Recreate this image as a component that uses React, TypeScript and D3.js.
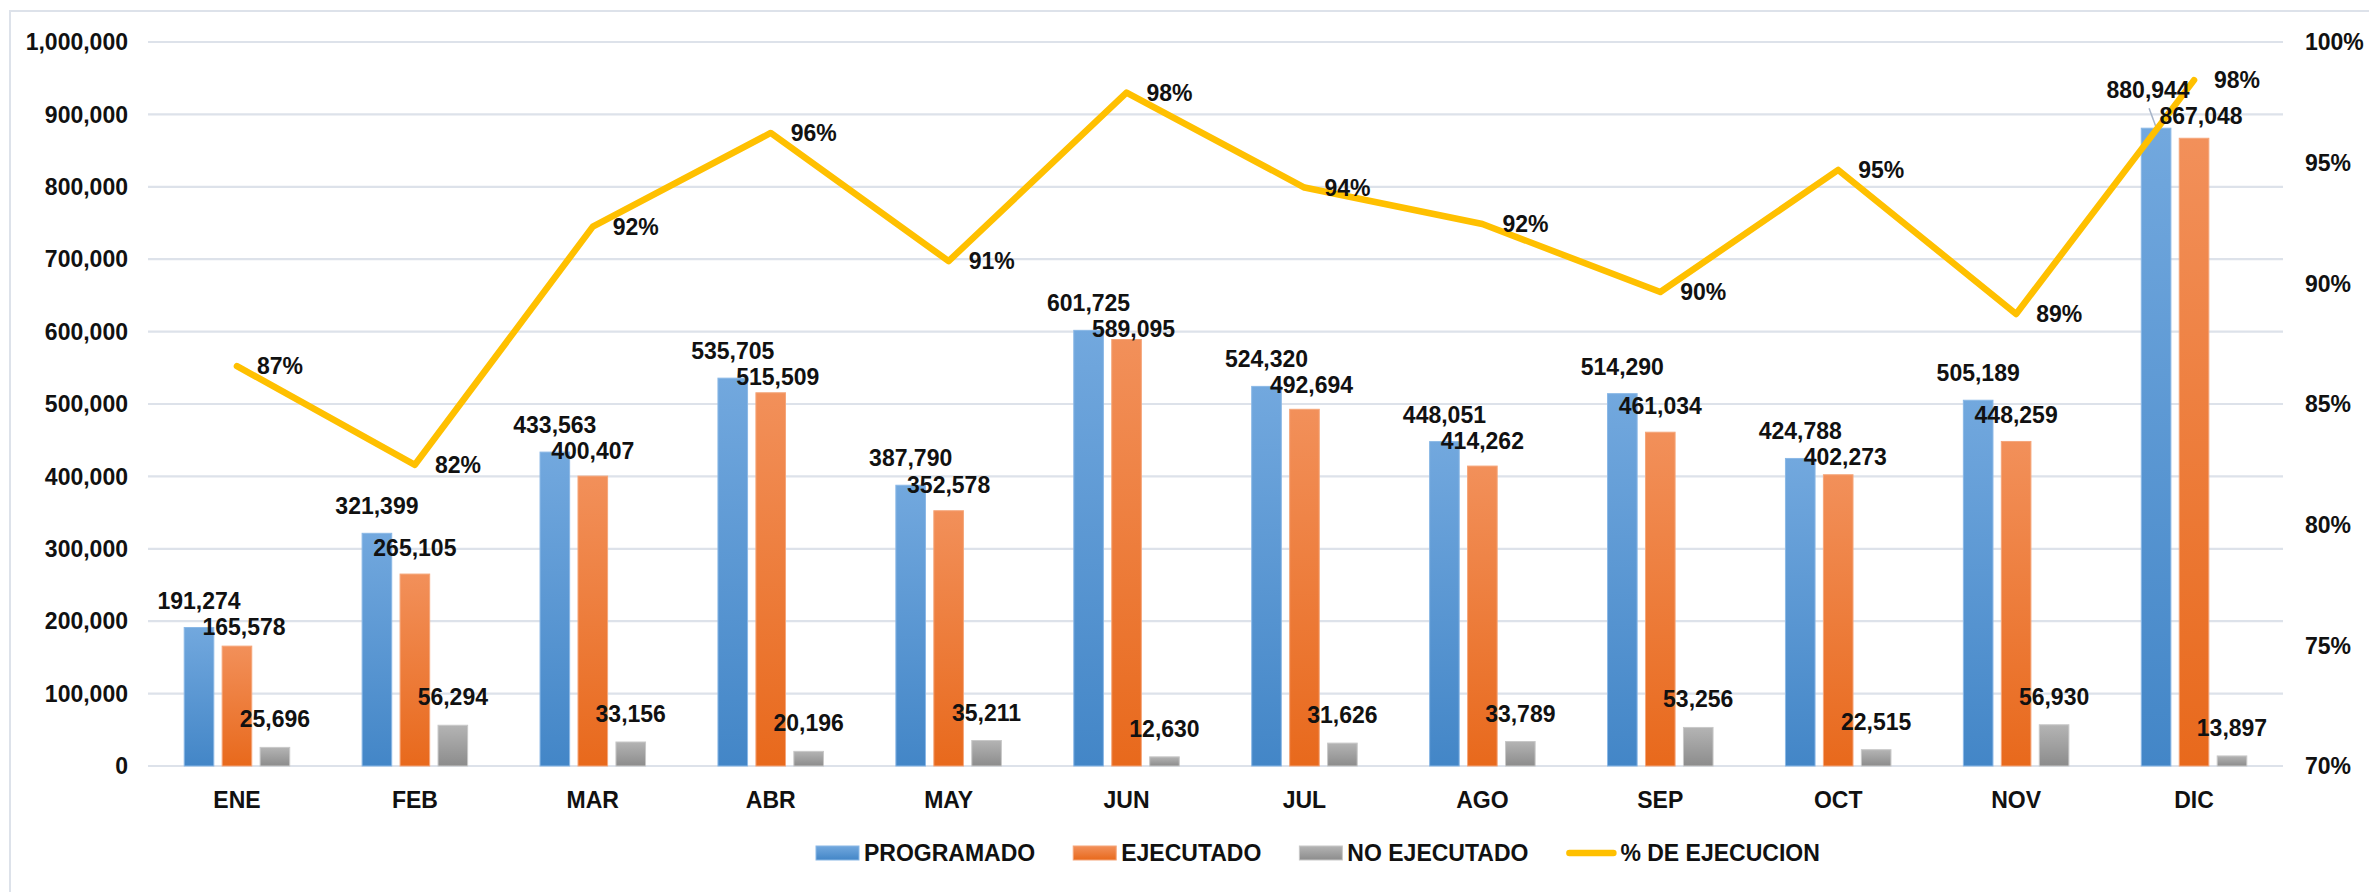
import React from 'react';
import * as d3 from 'd3';

// Monthly budget execution
const MONTHS = ['ENE', 'FEB', 'MAR', 'ABR', 'MAY', 'JUN', 'JUL', 'AGO', 'SEP', 'OCT', 'NOV', 'DIC'];
const PROGRAMADO = [191274, 321399, 433563, 535705, 387790, 601725, 524320, 448051, 514290, 424788, 505189, 880944];
const EJECUTADO = [165578, 265105, 400407, 515509, 352578, 589095, 492694, 414262, 461034, 402273, 448259, 867048];
const NO_EJECUTADO = [25696, 56294, 33156, 20196, 35211, 12630, 31626, 33789, 53256, 22515, 56930, 13897];
const PCT_EJECUCION = [0.8657, 0.8248, 0.9235, 0.9623, 0.9092, 0.979, 0.9397, 0.9246, 0.8964, 0.947, 0.8873, 0.9842];
const LEFT_TICKS = [0, 100000, 200000, 300000, 400000, 500000, 600000, 700000, 800000, 900000, 1000000];
const RIGHT_TICKS = [0.7, 0.75, 0.8, 0.85, 0.9, 0.95, 1.0];
const SERIES = ['PROGRAMADO', 'EJECUTADO', 'NO EJECUTADO'];
const LINE_NAME = '% DE EJECUCION';

const W = 2369;
const H = 892;
const PLOT = { left: 148, right: 2283, top: 42, bottom: 766 };
const FONT = '"Liberation Sans", Arial, sans-serif';
const FS = 23;

const GRAD = [
  { id: 'g-prog', top: '#72a8de', bottom: '#4386c7', edge: '#8ab8e6' },
  { id: 'g-ejec', top: '#f2905a', bottom: '#e8691c', edge: '#f5a67a' },
  { id: 'g-noej', top: '#b4b4b4', bottom: '#8c8c8c', edge: '#c8c8c8' },
];
const LINE_COLOR = '#ffc000';
const GRID = '#dde2ea';

const fmt = d3.format(',');
const fmtPct = d3.format('.0%');

function textWidth(s: string) {
  const c = document.createElement('canvas').getContext('2d');
  if (!c) return s.length * FS * 0.65;
  c.font = `bold ${FS}px "Liberation Sans", Arial, sans-serif`;
  return c.measureText(s).width;
}

export default function App() {
  const x0 = d3.scaleBand<string>().domain(MONTHS).range([PLOT.left, PLOT.right]).paddingInner(0.36).paddingOuter(0.18);
  const x1 = d3.scaleBand<string>().domain(SERIES).range([0, x0.bandwidth()]).paddingInner(0.22).paddingOuter(0.11);
  const y = d3.scaleLinear().domain([0, 1000000]).range([PLOT.bottom, PLOT.top]);
  const yR = d3.scaleLinear().domain([0.7, 1.0]).range([PLOT.bottom, PLOT.top]);

  const cx = (m: string) => (x0(m) as number) + x0.bandwidth() / 2;
  const values = [PROGRAMADO, EJECUTADO, NO_EJECUTADO];

  const line = d3.line<number>()
    .x((_, i) => cx(MONTHS[i]))
    .y(d => yR(d));

  // data label placement (roughly what Excel did, incl. collision nudge)
  const labels: { x: number; y: number; t: string }[] = [];
  const leaders: { x1: number; y1: number; x2: number; y2: number }[] = [];
  MONTHS.forEach((m, i) => {
    const bx = (k: number) => (x0(m) as number) + (x1(SERIES[k]) as number) + x1.bandwidth() / 2;
    const topP = y(PROGRAMADO[i]);
    const topE = y(EJECUTADO[i]);
    const topN = y(NO_EJECUTADO[i]);
    let yP = topP - 19;
    let xP = bx(0);
    if (m === 'DIC') {
      yP = topP - 30;
      xP = bx(0) - 8;
      leaders.push({ x1: xP + 1, y1: yP + 10, x2: bx(0), y2: topP - 1 });
    }
    const yE = Math.max(topE - 18, yP + 26);
    const pushed = yE > topE - 17;
    labels.push({ x: xP, y: yP, t: fmt(PROGRAMADO[i]) });
    labels.push({ x: bx(1) + (pushed ? 7 : 0), y: yE, t: fmt(EJECUTADO[i]) });
    labels.push({ x: bx(2), y: topN - 20, t: fmt(NO_EJECUTADO[i]) });
  });

  // legend layout
  const legendItems = [...SERIES, LINE_NAME];
  const swW = 43;
  let lx = 816;
  const legend = legendItems.map((name, k) => {
    const item = { name, k, x: lx };
    lx += swW + 5 + textWidth(name) + 38;
    return item;
  });
  const legendY = 853;

  return (
    <svg width={W} height={H} style={{ position: 'absolute', left: 0, top: 0, background: '#fff' }}
      fontFamily={FONT}>
      <defs>
        {GRAD.map(g => (
          <linearGradient key={g.id} id={g.id} x1="0" y1="0" x2="0" y2="1">
            <stop offset="0%" stopColor={g.top} />
            <stop offset="100%" stopColor={g.bottom} />
          </linearGradient>
        ))}
      </defs>
      <rect x={0} y={0} width={W} height={H} fill="#fff" />
      <rect x={10} y={11} width={W + 40} height={H + 40} fill="none" stroke={GRID} strokeWidth={2} />

      {/* gridlines */}
      {LEFT_TICKS.map(t => (
        <line key={t} x1={PLOT.left} x2={PLOT.right} y1={y(t)} y2={y(t)} stroke={GRID} strokeWidth={2.2} />
      ))}

      {/* left axis labels */}
      {LEFT_TICKS.map(t => (
        <text key={t} x={128} y={y(t)} dy="0.36em" textAnchor="end" fontSize={FS} fontWeight="bold" fill="#111">
          {fmt(t)}
        </text>
      ))}

      {/* right axis labels */}
      {RIGHT_TICKS.map(t => (
        <text key={t} x={2305} y={yR(t)} dy="0.36em" textAnchor="start" fontSize={FS} fontWeight="bold" fill="#111">
          {fmtPct(t)}
        </text>
      ))}

      {/* bars */}
      {MONTHS.map((m, i) => (
        <g key={m} transform={`translate(${x0(m)},0)`}>
          {SERIES.map((s, k) => {
            const v = values[k][i];
            return (
              <rect key={s} x={x1(s)} y={y(v)} width={x1.bandwidth()} height={y(0) - y(v)}
                fill={`url(#${GRAD[k].id})`} stroke={GRAD[k].edge} strokeWidth={1} />
            );
          })}
        </g>
      ))}

      {/* month labels */}
      {MONTHS.map(m => (
        <text key={m} x={cx(m)} y={808} textAnchor="middle" fontSize={FS} fontWeight="bold" fill="#111">{m}</text>
      ))}

      {/* leader lines */}
      {leaders.map((l, i) => (
        <line key={i} x1={l.x1} y1={l.y1} x2={l.x2} y2={l.y2} stroke="#a6b4c8" strokeWidth={1.5} />
      ))}

      {/* execution line */}
      <path d={line(PCT_EJECUCION) || ''} fill="none" stroke={LINE_COLOR} strokeWidth={6.5}
        strokeLinejoin="round" strokeLinecap="round" />

      {/* bar data labels */}
      {labels.map((l, i) => (
        <text key={i} x={l.x} y={l.y} textAnchor="middle" fontSize={FS} fontWeight="bold" fill="#111">{l.t}</text>
      ))}

      {/* percentage labels */}
      {PCT_EJECUCION.map((p, i) => (
        <text key={i} x={cx(MONTHS[i]) + 20} y={yR(p)} dy="0.36em" textAnchor="start" fontSize={FS}
          fontWeight="bold" fill="#111">{fmtPct(p)}</text>
      ))}

      {/* legend */}
      {legend.map(it => (
        <g key={it.name}>
          {it.k < 3 ? (
            <rect x={it.x} y={legendY - 7} width={swW} height={14} fill={`url(#${GRAD[it.k].id})`}
              stroke={GRAD[it.k].edge} strokeWidth={1} />
          ) : (
            <line x1={it.x + 3} x2={it.x + swW + 4} y1={legendY} y2={legendY} stroke={LINE_COLOR}
              strokeWidth={6.5} strokeLinecap="round" />
          )}
          <text x={it.x + swW + 5 + (it.k === 3 ? 6 : 0)} y={legendY} dy="0.36em" fontSize={FS} fontWeight="bold" fill="#111">
            {it.name}
          </text>
        </g>
      ))}
    </svg>
  );
}
